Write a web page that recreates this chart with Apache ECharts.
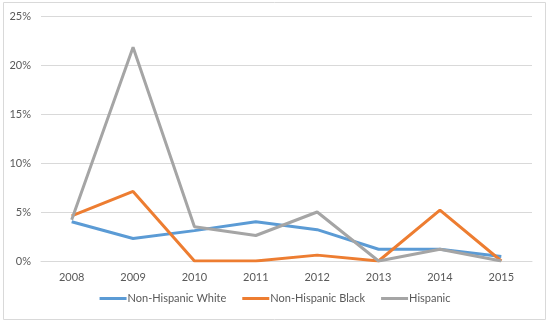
<!DOCTYPE html>
<html><head><meta charset="utf-8">
<script src="https://cdn.jsdelivr.net/npm/echarts@6/dist/echarts.min.js"></script>
<style>html,body{margin:0;padding:0;background:#fff}#c{width:550px;height:323px}</style>
</head><body><div id="c"></div>
<script>
const years = ['2008','2009','2010','2011','2012','2013','2014','2015'];
const white = [4.0, 2.3, 3.1, 4.0, 3.2, 1.2, 1.2, 0.45];
const black = [4.6, 7.1, 0, 0, 0.6, 0, 5.2, 0];
const hispanic = [4.2, 21.8, 3.5, 2.6, 5.0, 0, 1.2, 0];
const yTicks = [0, 5, 10, 15, 20, 25];
const names = ['Non-Hispanic White', 'Non-Hispanic Black', 'Hispanic'];
const colors = ['#5B9BD5', '#ED7D31', '#A5A5A5'];
const font = 'Lato, Open Sans, sans-serif';
const chart = echarts.init(document.getElementById('c'));
const mk = (name, data, color) => ({
  name, type: 'line', data, symbol: 'none', smooth: false,
  lineStyle: { width: 3, color }, itemStyle: { color }
});
chart.setOption({
  animation: false,
  graphic: [{ type: 'rect', shape: { x: 3.5, y: 2.5, width: 542, height: 317 },
    style: { fill: 'none', stroke: '#d9d9d9', lineWidth: 1 } }],
  grid: { left: 41, right: 18, top: 16, bottom: 62 },
  legend: {
    bottom: 14, left: 'center', itemWidth: 27, itemHeight: 3, itemGap: 16,
    icon: 'rect',
    textStyle: { color: '#595959', fontSize: 11, fontFamily: font, padding: [0, 0, 0, -4] },
    data: names
  },
  xAxis: {
    type: 'category', data: years, boundaryGap: true,
    axisLine: { lineStyle: { color: '#d9d9d9', width: 1 } },
    axisTick: { show: false },
    axisLabel: { color: '#595959', fontSize: 11, fontFamily: font, margin: 11 }
  },
  yAxis: {
    type: 'value', min: yTicks[0], max: yTicks[yTicks.length - 1], interval: 5,
    axisLine: { show: false }, axisTick: { show: false },
    splitLine: { lineStyle: { color: '#d9d9d9', width: 1 } },
    axisLabel: { color: '#595959', fontSize: 11, fontFamily: font, margin: 10, formatter: v => v + '%' }
  },
  series: [mk(names[0], white, colors[0]), mk(names[1], black, colors[1]), mk(names[2], hispanic, colors[2])]
});
</script></body></html>
